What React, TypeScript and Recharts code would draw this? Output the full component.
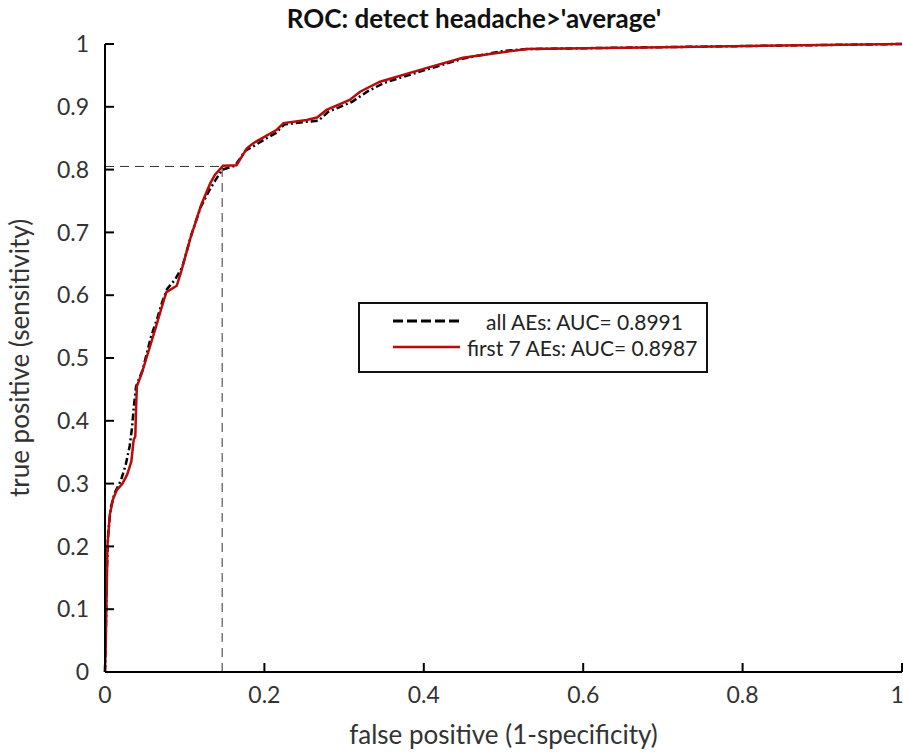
import { LineChart, Line, XAxis, YAxis, ReferenceLine, Legend } from "recharts";

// ROC points (false positive rate, true positive rate)
const fprAll = [0, 0.001, 0.002, 0.004, 0.007, 0.012, 0.02, 0.026, 0.031, 0.034, 0.036, 0.039, 0.047, 0.053, 0.058, 0.066, 0.072, 0.078, 0.088, 0.097, 0.108, 0.12, 0.13, 0.138, 0.147, 0.163, 0.176, 0.186, 0.2, 0.214, 0.225, 0.252, 0.268, 0.28, 0.31, 0.33, 0.35, 0.4, 0.45, 0.5, 0.53, 0.7, 1];
const tprAll = [0, 0.06, 0.15, 0.22, 0.26, 0.285, 0.305, 0.33, 0.36, 0.39, 0.42, 0.455, 0.48, 0.51, 0.535, 0.565, 0.59, 0.61, 0.625, 0.645, 0.695, 0.74, 0.765, 0.782, 0.8, 0.806, 0.83, 0.837, 0.848, 0.858, 0.872, 0.876, 0.878, 0.892, 0.908, 0.925, 0.938, 0.958, 0.977, 0.989, 0.992, 0.995, 1];

const fprFirst7 = [0, 0.001, 0.002, 0.003, 0.006, 0.01, 0.015, 0.022, 0.028, 0.033, 0.036, 0.038, 0.039, 0.04, 0.046, 0.052, 0.058, 0.064, 0.071, 0.077, 0.09, 0.095, 0.107, 0.121, 0.132, 0.138, 0.148, 0.165, 0.178, 0.186, 0.2, 0.215, 0.224, 0.253, 0.266, 0.278, 0.307, 0.32, 0.345, 0.404, 0.449, 0.529, 0.7, 1];
const tprFirst7 = [0, 0.05, 0.12, 0.2, 0.25, 0.275, 0.29, 0.3, 0.315, 0.335, 0.37, 0.375, 0.42, 0.455, 0.475, 0.5, 0.525, 0.55, 0.58, 0.605, 0.615, 0.635, 0.69, 0.745, 0.778, 0.792, 0.806, 0.807, 0.834, 0.842, 0.852, 0.863, 0.874, 0.879, 0.883, 0.895, 0.911, 0.924, 0.94, 0.962, 0.978, 0.992, 0.995, 1];

const xTicks = [0, 0.2, 0.4, 0.6, 0.8, 1];
const yTicks = [0, 0.1, 0.2, 0.3, 0.4, 0.5, 0.6, 0.7, 0.8, 0.9, 1];

// operating point marked with the dashed lines
const cutFpr = 0.147;
const cutTpr = 0.805;

const labelAll = "all AEs: AUC= 0.8991";
const labelFirst7 = "first 7 AEs: AUC= 0.8987";

const allData = fprAll.map((fpr, i) => ({ fpr, tpr: tprAll[i] }));
const first7Data = fprFirst7.map((fpr, i) => ({ fpr, tpr: tprFirst7[i] }));

const FONT = "Lato, 'Open Sans', sans-serif";
const RED = "#b80c0c";

const LegendBox = () => (
  <div
    style={{
      border: "2px solid #111",
      background: "#fff",
      width: 350,
      height: 71,
      boxSizing: "border-box",
      fontFamily: FONT,
      fontSize: 21,
      color: "#222",
      padding: "4px 0 0 33px",
    }}
  >
    {[
      { label: labelAll, color: "#000", dash: "10 4", gap: 26 },
      { label: labelFirst7, color: RED, dash: undefined, gap: 7 },
    ].map((row) => (
      <div key={row.label} style={{ display: "flex", alignItems: "center", height: 26, whiteSpace: "nowrap" }}>
        <svg width={67} height={10} style={{ marginRight: row.gap, flex: "none" }}>
          <line x1={0} x2={67} y1={5} y2={5} stroke={row.color} strokeWidth={row.dash ? 3 : 2.5} strokeDasharray={row.dash} />
        </svg>
        <span>{row.label}</span>
      </div>
    ))}
  </div>
);

export default function App() {
  return (
    <div style={{ position: "absolute", left: 0, top: 0, background: "#fff" }}>
      <LineChart width={903} height={752} margin={{ top: 44, right: 1, bottom: 30, left: 0 }}>
        <text x={474} y={28} textAnchor="middle" fontFamily={FONT} fontWeight={700} fontSize={26} fill="#111">
          ROC: detect headache&gt;'average'
        </text>
        <XAxis
          type="number"
          dataKey="fpr"
          domain={[0, 1]}
          ticks={xTicks}
          height={50}
          tickSize={-9}
          tickMargin={24}
          axisLine={{ stroke: "#000", strokeWidth: 2 }}
          tickLine={{ stroke: "#000", strokeWidth: 2 }}
          tick={{ fill: "#333", fontFamily: FONT, fontSize: 23 }}
          label={{ value: "false positive (1-specificity)", position: "insideBottom", offset: -22, fill: "#333", fontFamily: FONT, fontSize: 26 }}
        />
        <YAxis
          type="number"
          dataKey="tpr"
          domain={[0, 1]}
          ticks={yTicks}
          width={105}
          tickSize={-9}
          tickMargin={25}
          axisLine={{ stroke: "#000", strokeWidth: 2 }}
          tickLine={{ stroke: "#000", strokeWidth: 2 }}
          tick={{ fill: "#333", fontFamily: FONT, fontSize: 23 }}
          label={{ value: "true positive (sensitivity)", angle: -90, position: "insideLeft", offset: 20, fill: "#333", fontFamily: FONT, fontSize: 26, style: { textAnchor: "middle" } }}
        />
        <ReferenceLine
          segment={[{ x: 0, y: cutTpr }, { x: cutFpr, y: cutTpr }]}
          stroke="#333"
          strokeWidth={1}
          strokeDasharray="9 6"
        />
        <ReferenceLine
          segment={[{ x: cutFpr, y: 0 }, { x: cutFpr, y: cutTpr }]}
          stroke="#333"
          strokeWidth={1}
          strokeDasharray="9 6"
        />
        <Line
          data={allData}
          dataKey="tpr"
          name={labelAll}
          type="linear"
          stroke="#000"
          strokeWidth={2.5}
          strokeDasharray="7 3 2 3"
          dot={false}
          isAnimationActive={false}
        />
        <Line
          data={first7Data}
          dataKey="tpr"
          name={labelFirst7}
          type="linear"
          stroke={RED}
          strokeWidth={2.5}
          dot={false}
          isAnimationActive={false}
        />
        <Legend
          layout="vertical"
          align="center"
          verticalAlign="middle"
          content={<LegendBox />}
          wrapperStyle={{ position: "absolute", left: 358, top: 302, width: 350 }}
        />
      </LineChart>
    </div>
  );
}
